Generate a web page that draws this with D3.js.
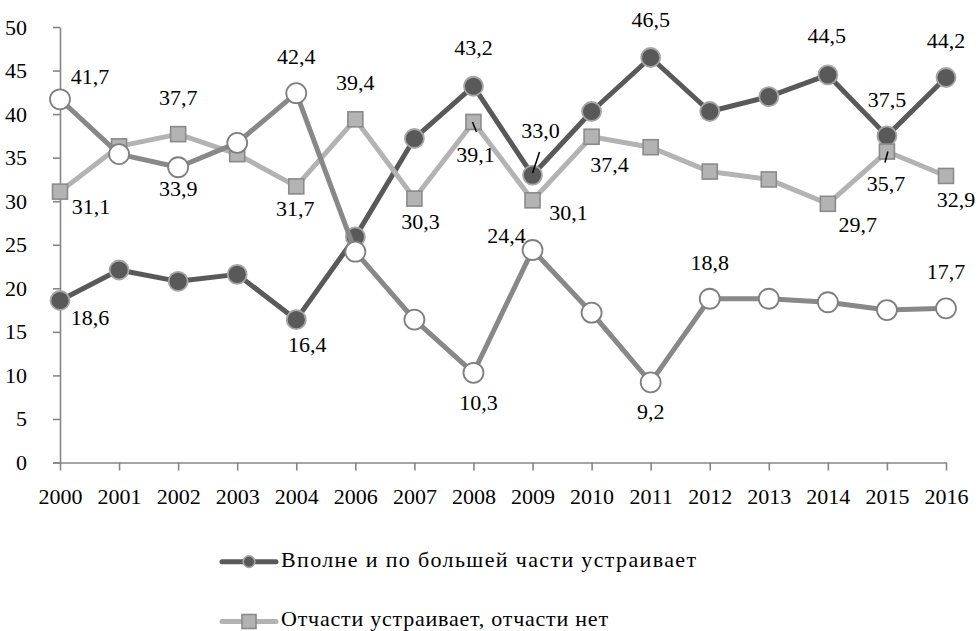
<!DOCTYPE html>
<html><head><meta charset="utf-8">
<script src="https://cdn.jsdelivr.net/npm/d3@7/dist/d3.min.js"></script>
<style>body{margin:0;background:#fff}svg{display:block}text{font-family:"Liberation Serif","Tinos","DejaVu Serif",serif !important;fill:#000}</style>
</head><body><svg id="c" width="979" height="631"></svg>
<script>
const years = ["2000","2001","2002","2003","2004","2006","2007","2008","2009","2010","2011","2012","2013","2014","2015","2016"];
const yTicks = [0,5,10,15,20,25,30,35,40,45,50];
const seriesNames = ["Вполне и по большей части устраивает","Отчасти устраивает, отчасти нет","Не устраивает"];
const fullySatisfied = [18.6,22.1,20.8,21.6,16.4,25.9,37.2,43.2,33.0,40.3,46.5,40.3,42.0,44.5,37.5,44.2];
const partlySatisfied = [31.1,36.3,37.7,35.4,31.7,39.4,30.3,39.1,30.1,37.4,36.2,33.4,32.5,29.7,35.7,32.9];
const notSatisfied = [41.7,35.4,33.9,36.7,42.4,24.2,16.4,10.3,24.4,17.2,9.2,18.8,18.8,18.4,17.5,17.7];

// label placement (style config): index, dx, dy, optional leader
const labels1 = [[0,30,18],[4,11,25],[7,0,-38],[8,8,-44,[0,-2,7,-23]],[10,0,-37],[13,-1,-39],[14,0,-36],[15,0,-37]];
const labels2 = [[0,31,15],[2,0,-36],[4,-1,23],[5,0,-36],[6,6,23],[7,2,33,[-1,0,3,10]],[8,36,13],[9,18,28],[13,30,21],[14,-1,32,[1,0,-2,11]],[15,10,24]];
const labels3 = [[0,30,-22],[2,0,22],[4,0,-36],[7,5,30],[8,-26,-14],[10,0,30],[11,0,-36],[15,0,-36]];

const FONT = '"Liberation Serif","Tinos","DejaVu Serif",serif';
const svg = d3.select("#c");
const x = d3.scalePoint().domain(years).range([60,946]);
const y = d3.scaleLinear().domain([0,50]).range([462.5,27]);
const axisColor = "#868686";

// y axis
const ya = svg.append("g").attr("transform","translate(60,0)").call(d3.axisLeft(y).tickValues(yTicks).tickSize(7).tickPadding(26).tickSizeOuter(0));
ya.attr("font-family",FONT);
ya.select(".domain").attr("stroke",axisColor).attr("stroke-width",1.6);
ya.selectAll(".tick line").attr("stroke",axisColor).attr("stroke-width",1.6);
ya.selectAll(".tick text").attr("font-size",22).attr("fill","#000").attr("dy","0.32em");

// x axis
const xa = svg.append("g").attr("transform","translate(0,462.5)").call(d3.axisBottom(x).tickSize(8).tickPadding(18).tickSizeOuter(0));
xa.attr("font-family",FONT);
xa.select(".domain").attr("stroke",axisColor).attr("stroke-width",1.6).attr("d","M53,0.5H946.5");
xa.selectAll(".tick line").attr("stroke",axisColor).attr("stroke-width",1.6);
xa.selectAll(".tick text").attr("font-size",22).attr("fill","#000");

const fmt = v => d3.format(".1f")(v).replace(".",",");
const line = d3.line().x((d,i)=>x(years[i])).y(d=>y(d));

function drawSeries(vals, lineColor, marker){
  const g = svg.append("g");
  g.append("path").datum(vals).attr("d",line).attr("fill","none").attr("stroke",lineColor).attr("stroke-width",5).attr("stroke-linejoin","round");
  vals.forEach((v,i)=>{
    const cx = x(years[i]), cy = y(v);
    if(marker==="dark") g.append("circle").attr("cx",cx).attr("cy",cy).attr("r",9.5).attr("fill","#595959").attr("stroke","#a6a6a6").attr("stroke-width",1.8);
    else if(marker==="square") g.append("rect").attr("x",cx-7.5).attr("y",cy-7.5).attr("width",15).attr("height",15).attr("fill","#b3b3b3").attr("stroke","#8a8a8a").attr("stroke-width",1.6);
    else g.append("circle").attr("cx",cx).attr("cy",cy).attr("r",10).attr("fill","#fff").attr("stroke","#7f7f7f").attr("stroke-width",1.8);
  });
}
function drawLabels(vals, labs){
  const g = svg.append("g").attr("font-family",FONT);
  labs.forEach(l=>{
    const cx = x(years[l[0]]), cy = y(vals[l[0]]);
    g.append("text").attr("x",cx+l[1]).attr("y",cy+l[2]+7).attr("text-anchor","middle").attr("font-size",22).text(fmt(vals[l[0]]));
    if(l[3]) g.append("line").attr("x1",cx+l[3][0]).attr("y1",cy+l[3][1]).attr("x2",cx+l[3][2]).attr("y2",cy+l[3][3]).attr("stroke","#000").attr("stroke-width",1.5);
  });
}
drawSeries(fullySatisfied,"#595959","dark");
drawSeries(partlySatisfied,"#b3b3b3","square");
drawSeries(notSatisfied,"#888888","white");
drawLabels(fullySatisfied,labels1);
drawLabels(partlySatisfied,labels2);
drawLabels(notSatisfied,labels3);

// legend
const lg = svg.append("g").attr("font-family",FONT);
const legY = [561.7,621.5];
lg.append("line").attr("x1",222).attr("x2",276).attr("y1",legY[0]).attr("y2",legY[0]).attr("stroke","#595959").attr("stroke-width",5).attr("stroke-linecap","round");
lg.append("circle").attr("cx",249).attr("cy",legY[0]).attr("r",5.8).attr("fill","#595959").attr("stroke","#a6a6a6").attr("stroke-width",1.6);
lg.append("text").attr("x",281).attr("y",legY[0]+5).attr("font-size",22).attr("textLength",415).attr("lengthAdjust","spacing").text(seriesNames[0]);
lg.append("line").attr("x1",222).attr("x2",276).attr("y1",legY[1]).attr("y2",legY[1]).attr("stroke","#b3b3b3").attr("stroke-width",5).attr("stroke-linecap","round");
lg.append("rect").attr("x",242).attr("y",legY[1]-7).attr("width",14).attr("height",14).attr("fill","#b3b3b3").attr("stroke","#8a8a8a").attr("stroke-width",1.6);
lg.append("text").attr("x",281).attr("y",legY[1]+4.5).attr("font-size",22).attr("textLength",327).attr("lengthAdjust","spacing").text(seriesNames[1]);
</script></body></html>
